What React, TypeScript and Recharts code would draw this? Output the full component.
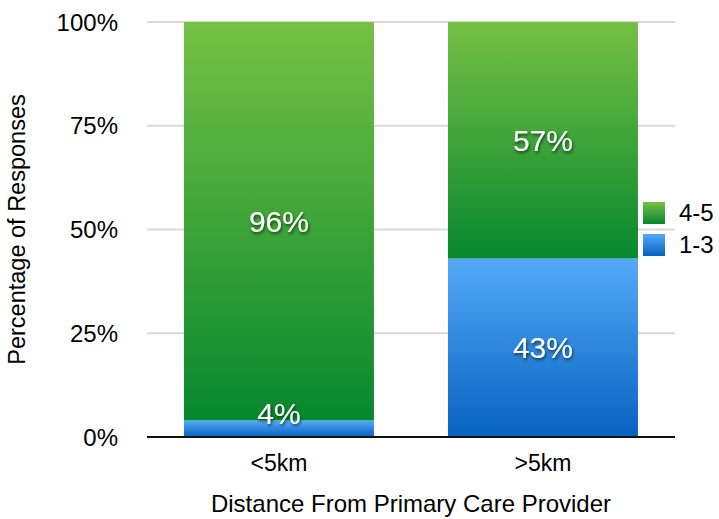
import { BarChart, Bar, XAxis, YAxis, CartesianGrid, Legend, LabelList } from 'recharts';

const categories = ['<5km', '>5km'];
const lowScores = [4, 43]; // 1-3
const highScores = [96, 57]; // 4-5
const yTicks = [0, 25, 50, 75, 100];

const data = categories.map((name, i) => ({ name, low: lowScores[i], high: highScores[i] }));

const renderValue = (props: any) => {
  const { x, y, width, height, value } = props;
  const cx = Number(x) + Number(width) / 2;
  const cy = Number(height) < 40 ? Number(y) + Number(height) - 24 : Number(y) + Number(height) / 2;
  return (
    <text x={cx} y={cy} textAnchor="middle" dominantBaseline="central" fill="#fff" fontSize={30} filter="url(#txtShadow)">
      {value}%
    </text>
  );
};

const renderLegend = () => {
  const items = [
    { label: '4-5', fill: 'url(#gradGreen)' },
    { label: '1-3', fill: 'url(#gradBlue)' },
  ];
  return (
    <div>
      {items.map((it) => (
        <div key={it.label} style={{ display: 'flex', alignItems: 'center', height: 32 }}>
          <svg width={22} height={22} style={{ display: 'block' }}>
            <rect x={0} y={0} width={22} height={22} fill={it.fill} />
          </svg>
          <span style={{ marginLeft: 14, fontSize: 24, color: '#000' }}>{it.label}</span>
        </div>
      ))}
    </div>
  );
};

export default function App() {
  return (
    <div style={{ position: 'absolute', left: 0, top: 0, fontFamily: '"Liberation Sans", Arial, sans-serif' }}>
      <BarChart width={719} height={519} data={data} margin={{ top: 22, right: 44, left: 0, bottom: 0 }} barCategoryGap="14%">
        <defs>
          <linearGradient id="gradGreen" x1="0" y1="0" x2="0" y2="1">
            <stop offset="0%" stopColor="#76c044" />
            <stop offset="100%" stopColor="#06882e" />
          </linearGradient>
          <linearGradient id="gradBlue" x1="0" y1="0" x2="0" y2="1">
            <stop offset="0%" stopColor="#55aaf8" />
            <stop offset="100%" stopColor="#0662c1" />
          </linearGradient>
          <filter id="txtShadow" x="-20%" y="-20%" width="140%" height="160%">
            <feDropShadow dx="1" dy="2" stdDeviation="1.5" floodColor="#000" floodOpacity="0.6" />
          </filter>
        </defs>
        <CartesianGrid vertical={false} stroke="#d9d9d9" strokeWidth={2} />
        <XAxis
          dataKey="name"
          height={82}
          tickLine={false}
          tickSize={0}
          tickMargin={18}
          axisLine={{ stroke: '#111', strokeWidth: 2 }}
          tick={{ fill: '#000', fontSize: 23 }}
          label={{ value: 'Distance From Primary Care Provider', position: 'insideBottom', offset: 7, fill: '#000', fontSize: 24 }}
        />
        <YAxis
          width={147}
          domain={[0, 100]}
          ticks={yTicks}
          tickFormatter={(v) => `${v}%`}
          axisLine={false}
          tickLine={false}
          tickSize={0}
          tickMargin={29}
          tick={{ fill: '#000', fontSize: 24 }}
          label={{ value: 'Percentage of Responses', angle: -90, position: 'insideLeft', offset: 17, fill: '#000', fontSize: 23.5, style: { textAnchor: 'middle' } }}
        />
        <Legend
          layout="horizontal"
          verticalAlign="middle"
          align="center"
          content={renderLegend}
          wrapperStyle={{ position: 'absolute', left: 643, top: 197, width: 80 }}
        />
        <Bar dataKey="low" name="1-3" stackId="a" fill="url(#gradBlue)" isAnimationActive={false}>
          <LabelList dataKey="low" content={renderValue} />
        </Bar>
        <Bar dataKey="high" name="4-5" stackId="a" fill="url(#gradGreen)" isAnimationActive={false}>
          <LabelList dataKey="high" content={renderValue} />
        </Bar>
      </BarChart>
    </div>
  );
}
